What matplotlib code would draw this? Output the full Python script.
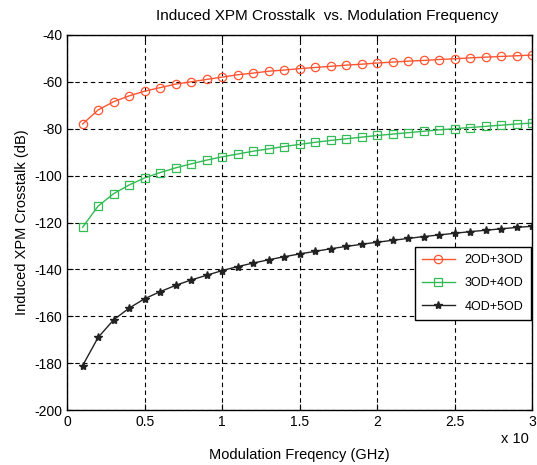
import matplotlib
matplotlib.use('Agg')
import matplotlib.pyplot as plt

freq = [0.1, 0.2, 0.3, 0.4, 0.5, 0.6, 0.7, 0.8, 0.9, 1.0,
        1.1, 1.2, 1.3, 1.4, 1.5, 1.6, 1.7, 1.8, 1.9, 2.0,
        2.1, 2.2, 2.3, 2.4, 2.5, 2.6, 2.7, 2.8, 2.9, 3.0]

xpm_2od_3od = [-78, -72, -68.5, -66, -64, -62.5, -61, -60, -59, -58,
               -57, -56.3, -55.5, -55, -54.4, -53.9, -53.4, -52.9, -52.5, -52,
               -51.6, -51.2, -50.9, -50.5, -50.2, -49.8, -49.5, -49.2, -48.9, -48.6]
xpm_3od_4od = [-122, -113, -107.7, -104, -101, -98.7, -96.7, -95, -93.4, -92,
               -90.8, -89.6, -88.6, -87.6, -86.7, -85.8, -85, -84.3, -83.6, -82.9,
               -82.3, -81.7, -81.1, -80.5, -80, -79.5, -79, -78.5, -78, -77.6]
xpm_4od_5od = [-181, -169, -161.5, -156.5, -152.5, -149.5, -146.8, -144.5, -142.5, -140.5,
               -138.8, -137.3, -135.9, -134.6, -133.4, -132.3, -131.2, -130.2, -129.3, -128.4,
               -127.6, -126.8, -126, -125.3, -124.6, -123.9, -123.3, -122.7, -122.1, -121.6]

plt.rcParams['font.family'] = ['Liberation Sans', 'DejaVu Sans']
plt.rcParams['font.size'] = 10
plt.rcParams['axes.unicode_minus'] = False

fig = plt.figure(figsize=(5.37, 4.65), dpi=100)
ax = fig.add_axes([0.125, 0.118, 0.866, 0.807])

ax.plot(freq, xpm_2od_3od, color='#ff5533', lw=1, marker='o', ms=6,
        mfc='none', mew=0.9, label='2OD+3OD')
ax.plot(freq, xpm_3od_4od, color='#33bb55', lw=1, marker='s', ms=6,
        mfc='none', mew=0.9, label='3OD+4OD')
ax.plot(freq, xpm_4od_5od, color='#222222', lw=1, marker='*', ms=6,
        label='4OD+5OD')

ax.set_xlim(0, 3)
ax.set_ylim(-200, -40)
ax.set_xticks([0, 0.5, 1, 1.5, 2, 2.5, 3])
ax.set_xticklabels(['0', '0.5', '1', '1.5', '2', '2.5', '3'])
ax.set_yticks(range(-200, -39, 20))
ax.grid(True, color='black', ls=(0, (4, 3)), lw=0.8)
ax.tick_params(direction='in', length=4, top=True, right=True)
for s in ax.spines.values():
    s.set_linewidth(1)

fig.text(0.61, 0.965, 'Induced XPM Crosstalk  vs. Modulation Frequency',
         ha='center', va='center', fontsize=11)
ax.set_xlabel('Modulation Freqency (GHz)', fontsize=10.5, labelpad=14)
ax.set_ylabel('Induced XPM Crosstalk (dB)', fontsize=10.5)
fig.text(0.985, 0.055, 'x 10', ha='right', va='center', fontsize=10.5)

leg = ax.legend(loc='lower right', bbox_to_anchor=(0.997, 0.24), fontsize=9,
                fancybox=False, edgecolor='black', framealpha=1,
                borderpad=0.6, labelspacing=0.9, handlelength=2.6,
                borderaxespad=0)
leg.get_frame().set_linewidth(1)

fig.savefig('out.png', dpi=100)
